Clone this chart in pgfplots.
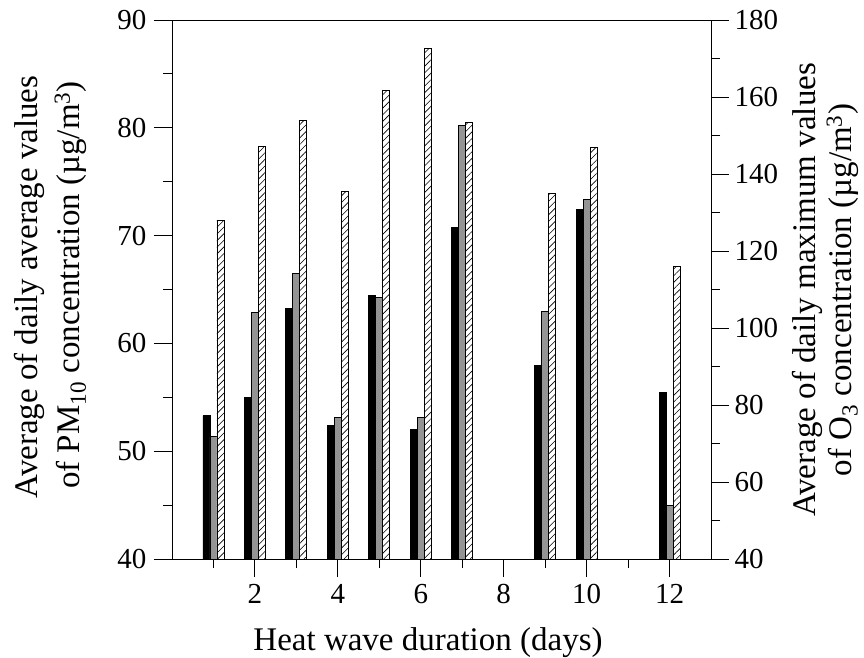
\documentclass[border=0pt]{standalone}
\usepackage{fontspec}
\setmainfont{Liberation Serif}
\usepackage{pgfplots}
\pgfplotsset{compat=1.18}
\usetikzlibrary{patterns.meta}
\begin{document}
\begin{tikzpicture}[x=1pt,y=1pt]
\path[use as bounding box] (0,0) rectangle (864,657);
\begin{axis}[
  at={(172pt,98pt)}, anchor=south west,
  scale only axis, width=539pt, height=539pt,
  xmin=0, xmax=13, ymin=40, ymax=90,
  xtick={2,4,...,12}, minor xtick={1,3,...,11},
  ytick={40,50,...,90}, minor ytick={45,55,...,85},
  xtick pos=bottom, ytick pos=left,
  tick align=outside,
  major tick length=18pt, minor tick length=9pt,
  every tick/.style={black, line width=0.9pt},
  axis line style={line width=0.9pt},
  tick label style={font=\fontsize{29}{33}\selectfont},
  xticklabel style={yshift=-4pt},
  yticklabel style={xshift=-4pt},
  /pgf/number format/assume math mode=true,
]
\addplot[ybar, bar width=7pt, bar shift=-7pt, fill=black, draw=black, line width=0.8pt] coordinates {
(1,53.30) (2,55.01) (3,63.24) (4,52.38) (5,64.41) (6,51.99) (7,70.77) (9,57.92) (10,72.40) (12,55.44)};
\addplot[ybar, bar width=7pt, bar shift=0pt, fill=black!42, draw=black, line width=0.8pt] coordinates {
(1,51.36) (2,62.89) (3,66.47) (4,53.09) (5,64.27) (6,53.17) (7,80.21) (9,62.96) (10,73.39) (12,44.97)};
\end{axis}
\begin{axis}[
  at={(172pt,98pt)}, anchor=south west,
  scale only axis, width=539pt, height=539pt,
  xmin=0, xmax=13, ymin=40, ymax=180,
  axis x line=none, axis y line*=right,
  ytick={40,60,...,180}, minor ytick={50,70,...,170},
  tick align=outside,
  major tick length=18pt, minor tick length=9pt,
  every tick/.style={black, line width=0.9pt},
  axis line style={line width=0.9pt},
  tick label style={font=\fontsize{29}{33}\selectfont},
  yticklabel style={xshift=2pt},
  /pgf/number format/assume math mode=true,
]
\addplot[ybar, bar width=7pt, bar shift=7pt, fill=white, draw=black, line width=0.8pt,
  postaction={pattern={Lines[angle=45,distance=4.7pt,line width=0.6pt]}}] coordinates {
(1,128.0) (2,147.2) (3,153.9) (4,135.4) (5,161.7) (6,172.7) (7,153.4) (9,134.9) (10,146.9) (12,116.1)};
\end{axis}
\node[font=\fontsize{33}{40}\selectfont, anchor=base] at (428,6.5) {Heat wave duration (days)};
\node[font=\fontsize{33}{40}\selectfont, rotate=90, anchor=base] at (37,370)
  {Average of daily average values};
\node[font=\fontsize{33}{40}\selectfont, rotate=90, anchor=base] at (79,372)
  {of PM\textsubscript{10} concentration (µg/m\textsuperscript{3})};
\node[font=\fontsize{33}{40}\selectfont, rotate=90, anchor=base] at (815,367)
  {Average of daily maximum values};
\node[font=\fontsize{33}{40}\selectfont, rotate=90, anchor=base] at (851,367)
  {of O\textsubscript{3} concentration (µg/m\textsuperscript{3})};
\end{tikzpicture}
\end{document}
